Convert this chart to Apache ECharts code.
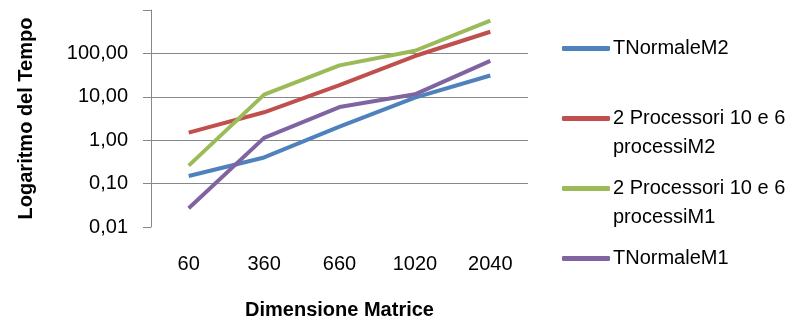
<!DOCTYPE html>
<html>
<head>
<meta charset="utf-8">
<script src="https://cdn.jsdelivr.net/npm/echarts@6/dist/echarts.min.js"></script>
<style>
html,body{margin:0;padding:0;background:#fff;}
#chart{width:791px;height:325px;}
</style>
</head>
<body>
<div id="chart"></div>
<script>
const categories = ['60', '360', '660', '1020', '2040'];
const tNormaleM2 = [0.15, 0.40, 2.05, 9.6, 31];
const proc2M2 = [1.5, 4.4, 18.5, 87, 315];
const proc2M1 = [0.26, 11.2, 53, 115, 570];
const tNormaleM1 = [0.027, 1.13, 5.8, 11.4, 67];
const seriesNames = ['TNormaleM2', '2 Processori 10 e 6 processiM2', '2 Processori 10 e 6 processiM1', 'TNormaleM1'];
const legendLines = [['TNormaleM2'], ['2 Processori 10 e 6', 'processiM2'], ['2 Processori 10 e 6', 'processiM1'], ['TNormaleM1']];
const colors = ['#4F81BD', '#C0504D', '#9BBB59', '#8064A2'];
const allData = [tNormaleM2, proc2M2, proc2M1, tNormaleM1];

const FONT = 'Liberation Sans';
const chart = echarts.init(document.getElementById('chart'), null, {renderer: 'canvas'});

const LH = 29;
// first-line centre y of each legend entry
const legendCenters = [53, 123, 193, 263];
const legends = seriesNames.map((n, i) => {
  const lines = legendLines[i];
  const twoLine = lines.length > 1;
  const text = twoLine
    ? '{t| }\n{t|' + lines[0] + '}\n{t|' + lines[1] + '}'
    : '{t|' + lines[0] + '}';
  const top = twoLine ? legendCenters[i] - 1.5 * LH : legendCenters[i] - 0.5 * LH;
  return {
    orient: 'vertical',
    left: 562,
    top: top,
    itemWidth: 48,
    itemHeight: 5,
    itemGap: 0,
    icon: 'roundRect',
    padding: 0,
    selectedMode: false,
    data: [{name: n, itemStyle: {color: colors[i]}}],
    formatter: () => text,
    textStyle: {
      fontFamily: FONT, fontSize: 20, color: '#000', padding: [0, 0, 0, -2],
      rich: {t: {fontFamily: FONT, fontSize: 20, color: '#000', lineHeight: LH}}
    }
  };
});

chart.setOption({
  animation: false,
  color: colors,
  textStyle: {fontFamily: FONT},
  grid: {left: 151, right: 263, top: 10, bottom: 91.5, containLabel: false},
  legend: legends,
  xAxis: {
    type: 'category',
    data: categories,
    boundaryGap: true,
    axisLine: {show: false},
    axisTick: {show: false},
    axisLabel: {fontFamily: FONT, fontSize: 20, color: '#000', margin: 27},
    name: 'Dimensione Matrice',
    nameLocation: 'middle',
    nameGap: 73,
    nameTextStyle: {fontFamily: FONT, fontSize: 20, fontWeight: 'bold', color: '#000'}
  },
  yAxis: {
    type: 'log',
    logBase: 10,
    min: 0.01,
    max: 1000,
    axisLine: {show: true, lineStyle: {color: '#888', width: 1}},
    axisTick: {show: true, length: 8, lineStyle: {color: '#888'}},
    splitLine: {show: true, showMinLine: false, showMaxLine: false, lineStyle: {color: '#888', width: 1}},
    axisLabel: {
      fontFamily: FONT, fontSize: 20, color: '#000', margin: 23,
      formatter: v => v >= 1000 ? '' : v.toFixed(2).replace('.', ',')
    },
    name: 'Logaritmo del Tempo',
    nameLocation: 'middle',
    nameGap: 115,
    nameTextStyle: {fontFamily: FONT, fontSize: 20, fontWeight: 'bold', color: '#000'}
  },
  series: seriesNames.map((n, i) => ({
    name: n,
    type: 'line',
    data: allData[i],
    showSymbol: false,
    symbol: 'none',
    lineStyle: {width: 4, color: colors[i]},
    itemStyle: {color: colors[i]}
  }))
});
</script>
</body>
</html>
